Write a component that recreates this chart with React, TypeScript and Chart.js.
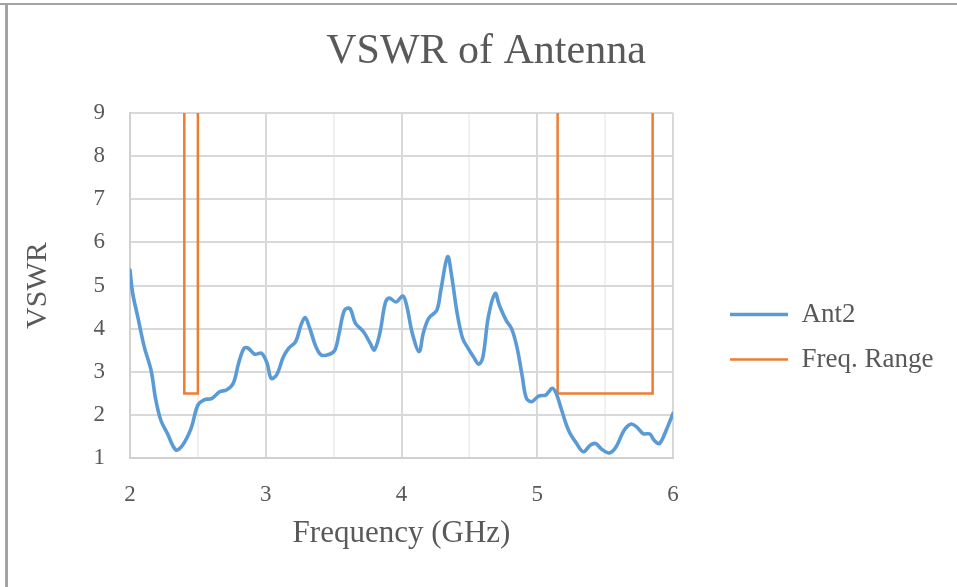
import React, { useEffect, useRef } from "react";
import { Chart, registerables } from "chart.js";

Chart.register(...registerables);

const chartTitle = "VSWR of Antenna";
const xTitle = "Frequency (GHz)";
const yTitle = "VSWR";
const seriesNames = ["Ant2", "Freq. Range"];

const antFreq = [
  2.0, 2.02, 2.057, 2.105, 2.155, 2.19, 2.227, 2.276, 2.338, 2.387, 2.45, 2.5, 2.55, 2.6, 2.66, 2.71,
  2.76, 2.8, 2.84, 2.87, 2.92, 2.97, 3.01, 3.04, 3.08, 3.13, 3.17, 3.22, 3.26, 3.29, 3.32, 3.37, 3.41,
  3.47, 3.51, 3.54, 3.58, 3.62, 3.66, 3.72, 3.77, 3.8, 3.84, 3.88, 3.91, 3.96, 4.01, 4.04, 4.08, 4.13,
  4.16, 4.2, 4.26, 4.29, 4.34, 4.37, 4.41, 4.45, 4.49, 4.53, 4.57, 4.6, 4.64, 4.69, 4.72, 4.77, 4.81,
  4.85, 4.89, 4.92, 4.96, 5.01, 5.06, 5.08, 5.11, 5.14, 5.18, 5.23, 5.29, 5.34, 5.39, 5.43, 5.47, 5.53,
  5.58, 5.64, 5.69, 5.73, 5.78, 5.83, 5.86, 5.9, 5.95, 6.0,
];
const antVswr = [
  5.36, 4.82, 4.28, 3.58, 3.04, 2.35, 1.88, 1.57, 1.19, 1.3, 1.69, 2.23, 2.36, 2.38, 2.54, 2.58,
  2.73, 3.2, 3.55, 3.55, 3.41, 3.43, 3.2, 2.85, 2.93, 3.35, 3.55, 3.7, 4.09, 4.26, 4.05, 3.58, 3.39,
  3.41, 3.51, 3.89, 4.43, 4.47, 4.13, 3.93, 3.66, 3.51, 3.89, 4.59, 4.71, 4.62, 4.76, 4.51, 3.89, 3.47,
  3.89, 4.24, 4.43, 4.9, 5.67, 5.21, 4.36, 3.78, 3.55, 3.35, 3.18, 3.35, 4.28, 4.82, 4.55, 4.2, 4.01,
  3.58, 2.89, 2.39, 2.31, 2.44, 2.46, 2.52, 2.62, 2.5, 2.11, 1.65, 1.34, 1.15, 1.3, 1.34, 1.22, 1.12,
  1.26, 1.65, 1.79, 1.73, 1.57, 1.56, 1.42, 1.34, 1.65, 2.04,
];

// frequency bands (GHz) of the "Freq. Range" mask
const rangeLow = [2.4, 5.15];
const rangeHigh = [2.5, 5.85];
const rangeFloor = 2.5;
const rangeTop = 9;

const xMin = 2;
const xMax = 6;
const yMin = 1;
const yMax = 9;

const FONT = "'Liberation Serif', 'Times New Roman', serif";
const TEXT = "#595959";

export default function App() {
  const ref = useRef<HTMLCanvasElement | null>(null);

  useEffect(() => {
    document.body.style.margin = "0";
    const canvas = ref.current;
    if (!canvas) return;

    const antData = antFreq.map((f, i) => ({ x: f, y: antVswr[i] }));
    const rangeData: { x: number; y: number | null }[] = [];
    rangeLow.forEach((lo, i) => {
      const hi = rangeHigh[i];
      rangeData.push({ x: lo, y: rangeTop }, { x: lo, y: rangeFloor }, { x: hi, y: rangeFloor }, { x: hi, y: rangeTop });
      if (i < rangeLow.length - 1) rangeData.push({ x: hi, y: null });
    });

    const framePlugin = {
      id: "frame",
      beforeDraw(chart: any) {
        const c = chart.ctx;
        c.save();
        c.fillStyle = "#ffffff";
        c.fillRect(0, 0, chart.width, chart.height);
        c.fillStyle = "#a3a3a3";
        c.fillRect(0, 3, chart.width, 2);
        c.fillRect(5, 3, 3, chart.height - 3);
        c.restore();
      },
    };

    const legendWidthPlugin = {
      id: "legendWidth",
      beforeLayout(chart: any) {
        const lg = chart.legend;
        if (lg && !lg._wPatched) {
          const orig = lg.fit.bind(lg);
          lg.fit = function () {
            orig();
            this.width = 240;
          };
          lg._wPatched = true;
        }
      },
    };

    const xTickPad = 23;

    const chart = new Chart(canvas, {
      type: "scatter",
      data: {
        datasets: [
          {
            label: seriesNames[0],
            data: antData,
            showLine: true,
            borderColor: "#5B9BD5",
            backgroundColor: "#5B9BD5",
            borderWidth: 3.6,
            pointRadius: 0,
            pointHoverRadius: 0,
            tension: 0.35,
            borderCapStyle: "round",
            borderJoinStyle: "round",
          },
          {
            label: seriesNames[1],
            data: rangeData,
            showLine: true,
            spanGaps: false,
            borderColor: "#ED7D31",
            backgroundColor: "#ED7D31",
            borderWidth: 2.5,
            pointRadius: 0,
            pointHoverRadius: 0,
            tension: 0,
          },
        ],
      },
      options: {
        animation: false,
        responsive: true,
        maintainAspectRatio: false,
        layout: { padding: { left: 20, right: 5, top: 0, bottom: 21 } },
        plugins: {
          tooltip: { enabled: false },
          title: {
            display: true,
            text: chartTitle,
            color: TEXT,
            font: { family: FONT, size: 42, weight: "normal" },
            padding: { top: 26.5, bottom: 36.1 },
          },
          legend: {
            position: "right",
            align: "center",
            title: { display: true, text: " ", font: { family: FONT, size: 10 }, padding: { top: 0, bottom: 96 } },
            labels: {
              usePointStyle: true,
              pointStyle: "line",
              pointStyleWidth: 58,
              color: TEXT,
              font: { family: FONT, size: 27 },
              padding: 18,
            },
          },
        },
        scales: {
          x: {
            type: "linear",
            min: xMin,
            max: xMax,
            ticks: {
              stepSize: 0.5,
              autoSkip: false,
              maxRotation: 0,
              padding: xTickPad,
              color: TEXT,
              font: { family: FONT, size: 23 },
              callback: (v: any) => (Number.isInteger(v) ? String(v) : ""),
            },
            grid: {
              drawTicks: false,
              lineWidth: 2,
              color: (ctx: any) => (ctx.tick && Number.isInteger(ctx.tick.value) ? "#d9d9d9" : "#f0f0f0"),
            },
            border: { color: "#d0d0d0", width: 2 },
            title: {
              display: true,
              text: xTitle,
              color: TEXT,
              font: { family: FONT, size: 31 },
              padding: { top: 2, bottom: 14 },
            },
            afterFit: (s: any) => {
              s.height -= 2 * xTickPad - 27;
            },
          },
          y: {
            type: "linear",
            min: yMin,
            max: yMax,
            ticks: {
              stepSize: 1,
              padding: 25,
              color: TEXT,
              font: { family: FONT, size: 23 },
            },
            grid: { drawTicks: false, lineWidth: 2, color: "#d9d9d9" },
            border: { color: "#d0d0d0", width: 2 },
            title: {
              display: true,
              text: yTitle,
              color: TEXT,
              font: { family: FONT, size: 30 },
              padding: { top: 0, bottom: 37.5 },
            },
            afterFit: (s: any) => {
              s.width -= 25;
            },
          },
          gap: {
            type: "linear",
            position: "right",
            display: true,
            grid: { display: false, drawTicks: false },
            border: { display: false },
            ticks: { display: false },
            afterFit: (s: any) => {
              s.width = 39;
            },
          },
        },
      } as any,
      plugins: [framePlugin, legendWidthPlugin],
    });

    return () => chart.destroy();
  }, []);

  return (
    <div style={{ position: "relative", width: 957, height: 587 }}>
      <canvas ref={ref} />
    </div>
  );
}
